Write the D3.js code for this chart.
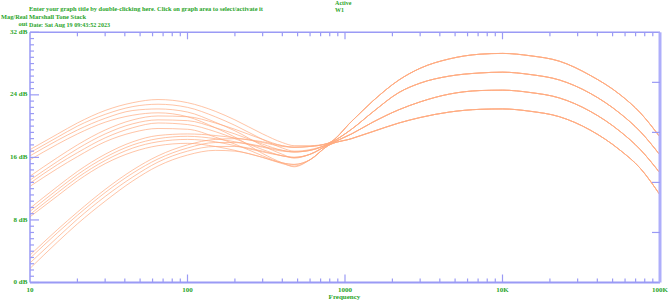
<!DOCTYPE html>
<html><head><meta charset="utf-8">
<script src="https://cdn.jsdelivr.net/npm/d3@7"></script>
<style>body{margin:0;background:#fff}svg{display:block}</style>
</head><body>
<svg id="c" width="669" height="302"></svg>
<script>
const freqs = [10,15,20,30,45,65,100,150,200,300,400,475,600,780,1100,1500,2200,3000,4600,7200,10000,15000,23000,36000,56000,75000,100000];
// bass group 1
const b1t1 = [17.0,19.0,20.4,22.0,23.0,23.4,23.0,21.9,20.8,19.0,17.9,17.5,17.5,17.8,20.6,23.2,25.9,27.4,28.6,29.2,29.3,29.0,28.3,26.5,24.0,21.7,18.6];
const b1t2 = [16.6,18.6,20.0,21.5,22.5,22.8,22.4,21.2,20.1,18.3,17.2,16.8,17.0,17.7,19.6,21.8,24.3,25.5,26.4,26.8,26.9,26.6,25.9,24.2,21.6,19.3,16.3];
const b1t3 = [16.2,18.2,19.5,21.0,22.0,22.2,21.8,20.5,19.4,17.5,16.4,15.9,16.4,17.6,19.0,20.5,22.1,23.1,24.1,24.55,24.6,24.3,23.6,21.9,19.3,17.0,14.0];
const b1t4 = [15.7,17.7,19.0,20.5,21.4,21.7,21.2,19.8,18.6,16.5,15.3,14.8,15.7,17.5,18.4,19.3,20.4,21.1,21.8,22.15,22.2,21.9,21.2,19.5,16.9,14.6,11.2];
// bass group 2
const b2t1 = [13.6,16.0,17.6,19.5,20.8,21.3,21.2,20.4,19.6,18.3,17.5,17.3,17.4,17.8,20.6,23.2,25.9,27.4,28.6,29.2,29.3,29.0,28.3,26.5,24.0,21.7,18.6];
const b2t2 = [13.1,15.5,17.1,19.0,20.3,20.8,20.7,19.8,19.0,17.7,16.9,16.7,16.9,17.7,19.6,21.8,24.3,25.5,26.4,26.8,26.9,26.6,25.9,24.2,21.6,19.3,16.3];
const b2t3 = [12.7,15.1,16.6,18.5,19.8,20.4,20.2,19.3,18.4,17.0,16.2,16.0,16.4,17.6,19.0,20.5,22.1,23.1,24.1,24.55,24.6,24.3,23.6,21.9,19.3,17.0,14.0];
const b2t4 = [12.3,14.6,16.1,18.0,19.2,19.7,19.6,18.6,17.7,16.2,15.3,15.1,15.7,17.5,18.4,19.3,20.4,21.1,21.8,22.15,22.2,21.9,21.2,19.5,16.9,14.6,11.2];
// bass group 3
const b3t1 = [9.5,12.3,14.2,16.4,18.0,18.8,19.0,18.8,18.5,17.9,17.4,17.3,17.4,17.8,20.6,23.2,25.9,27.4,28.6,29.2,29.3,29.0,28.3,26.5,24.0,21.7,18.6];
const b3t2 = [9.1,11.9,13.8,16.0,17.6,18.4,18.7,18.4,18.0,17.3,16.8,16.7,16.9,17.7,19.6,21.8,24.3,25.5,26.4,26.8,26.9,26.6,25.9,24.2,21.6,19.3,16.3];
const b3t3 = [8.7,11.5,13.4,15.6,17.2,18.0,18.3,18.0,17.5,16.7,16.2,16.0,16.4,17.6,19.0,20.5,22.1,23.1,24.1,24.55,24.6,24.3,23.6,21.9,19.3,17.0,14.0];
const b3t4 = [8.4,11.1,13.0,15.2,16.7,17.5,17.8,17.4,16.9,16.0,15.3,15.1,15.7,17.5,18.4,19.3,20.4,21.1,21.8,22.15,22.2,21.9,21.2,19.5,16.9,14.6,11.2];
// bass group 4
const b4t1 = [3.5,6.8,9.0,11.9,14.4,16.2,17.6,18.3,18.4,18.0,17.5,17.3,17.4,17.8,20.6,23.2,25.9,27.4,28.6,29.2,29.3,29.0,28.3,26.5,24.0,21.7,18.6];
const b4t2 = [3.1,6.4,8.6,11.5,14.0,15.8,17.2,17.9,17.9,17.4,16.9,16.7,16.9,17.7,19.6,21.8,24.3,25.5,26.4,26.8,26.9,26.6,25.9,24.2,21.6,19.3,16.3];
const b4t3 = [2.5,5.8,8.1,11.0,13.5,15.4,16.8,17.4,17.4,16.8,16.2,16.0,16.4,17.6,19.0,20.5,22.1,23.1,24.1,24.55,24.6,24.3,23.6,21.9,19.3,17.0,14.0];
const b4t4 = [1.8,5.2,7.5,10.4,13.0,14.9,16.3,16.9,16.8,16.0,15.2,14.9,15.7,17.5,18.4,19.3,20.4,21.1,21.8,22.15,22.2,21.9,21.2,19.5,16.9,14.6,11.2];
const series = [b1t1,b1t2,b1t3,b1t4,b2t1,b2t2,b2t3,b2t4,b3t1,b3t2,b3t3,b3t4,b4t1,b4t2,b4t3,b4t4];

const yMajor = [0,8,16,24,32];
const yLabels = ["0 dB","8 dB","16 dB","24 dB","32 dB"];
const xMajor = [10,100,1000,10000,100000];
const xLabels = ["10","100","1000","10K","100K"];
const titleLines = ["Enter your graph title by double-clicking here. Click on graph area to select/activate it","Marshall Tone Stack","Date: Sat Aug 19 09:43:52  2023"];

const svg = d3.select("#c");
const L=30, R=660, T=32.3, B=282.5;
const x = d3.scaleLog().domain([10,100000]).range([L,R]);
const y = d3.scaleLinear().domain([0,32]).range([B,T]);
const axisCol = "#9a9af5", txtCol = "#2aa52a";
const font = "'Liberation Serif','Times New Roman',serif";

// curves
const line = d3.line().x((d,i)=>x(freqs[i])).y(d=>y(d)).curve(d3.curveMonotoneX);
svg.append("g").selectAll("path").data(series).join("path")
  .attr("d", line).attr("fill","none").attr("stroke","#ffaa80").attr("stroke-width",0.7);

// left axis
const yMinor = d3.range(0,32.01,0.8);
svg.append("line").attr("x1",L).attr("x2",L).attr("y1",T).attr("y2",B).attr("stroke",axisCol).attr("stroke-width",1.5);
svg.append("g").selectAll("line").data(yMinor).join("line")
  .attr("x1",L).attr("x2",d=>L+(Math.abs(d/8-Math.round(d/8))<1e-6?9:4)).attr("y1",d=>y(d)).attr("y2",d=>y(d))
  .attr("stroke",axisCol).attr("stroke-width",1.2);
// top & bottom axes
svg.append("line").attr("x1",L).attr("x2",R).attr("y1",T).attr("y2",T).attr("stroke",axisCol).attr("stroke-width",1.5);
svg.append("line").attr("x1",L).attr("x2",R).attr("y1",B).attr("y2",B).attr("stroke",axisCol).attr("stroke-width",2);
const xt = x.ticks().filter(d=>d>10 && d<100000);
const isMaj = d=>xMajor.includes(d);
svg.append("g").selectAll("line").data(xt).join("line")
  .attr("x1",d=>x(d)).attr("x2",d=>x(d)).attr("y1",B).attr("y2",d=>B-(isMaj(d)?8:4)).attr("stroke",axisCol).attr("stroke-width",1.2);
svg.append("g").selectAll("line").data(xt).join("line")
  .attr("x1",d=>x(d)).attr("x2",d=>x(d)).attr("y1",T).attr("y2",d=>T+(isMaj(d)?7:4)).attr("stroke",axisCol).attr("stroke-width",1.2);
// right axis
svg.append("line").attr("x1",R).attr("x2",R).attr("y1",T).attr("y2",B).attr("stroke","#aeaefa").attr("stroke-width",3);
const rScale = d3.scaleLinear().domain([0,5]).range([B,T]);
svg.append("g").selectAll("line").data([1,2,3,4]).join("line")
  .attr("x1",R-8).attr("x2",R).attr("y1",d=>rScale(d)).attr("y2",d=>rScale(d)).attr("stroke",axisCol).attr("stroke-width",1.2);

// texts
const txt = (s,xx,yy,anchor,fs)=>svg.append("text").text(s).attr("x",xx).attr("y",yy).attr("text-anchor",anchor||"start")
  .attr("dominant-baseline","middle").attr("fill",txtCol).attr("font-family",font).attr("font-weight","bold").attr("font-size",fs||7);
yMajor.forEach((v,i)=>txt(yLabels[i],27.3,y(v),"end"));
xMajor.forEach((v,i)=>txt(xLabels[i],x(v),290,"middle"));
txt("Frequency",344.5,297.5,"middle");
txt("Mag/Real",1,17.5,"start",6.5).attr("textLength",26.5).attr("lengthAdjust","spacingAndGlyphs");
txt("out",27.5,24.8,"end",6.5);
txt(titleLines[0],29,10,"start",6.5).attr("textLength",234).attr("lengthAdjust","spacingAndGlyphs");
txt(titleLines[1],29,17.8,"start",6.5).attr("textLength",57).attr("lengthAdjust","spacingAndGlyphs");
txt(titleLines[2],29,25.5,"start",6.5).attr("textLength",81).attr("lengthAdjust","spacingAndGlyphs");
txt("Active",335,3.6,"start",6).attr("textLength",16.5).attr("lengthAdjust","spacingAndGlyphs");
txt("W1",335,10.4,"start",6);
</script>
</body></html>
